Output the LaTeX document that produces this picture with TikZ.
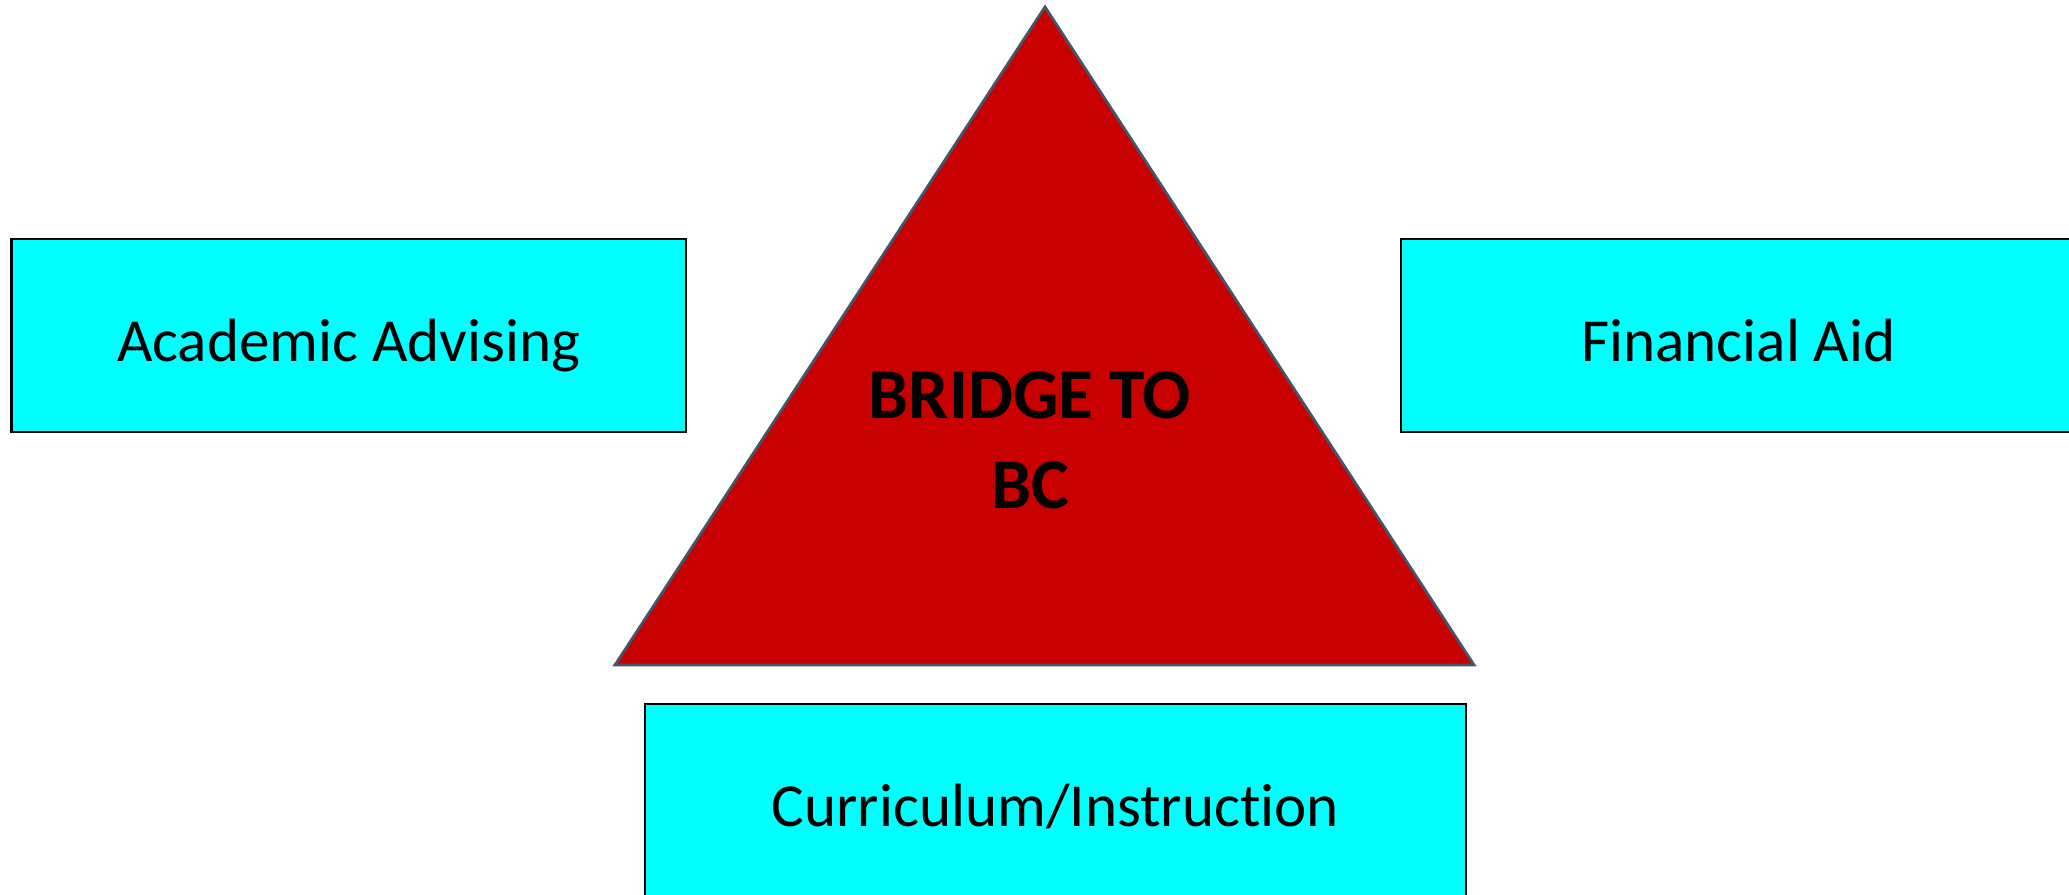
\documentclass[tikz,border=0pt]{standalone}
\usepackage{fontspec}
\setmainfont[Ligatures=NoCommon]{Carlito}
\definecolor{bridgered}{RGB}{200,0,0}
\definecolor{edgeslate}{RGB}{68,84,106}
\definecolor{areacyan}{RGB}{0,255,255}
\tikzset{area/.style={draw=black, line width=0.6pt, fill=areacyan, inner sep=0pt,
  minimum width=6.745cm, minimum height=1.93cm, text height=0.62cm, text depth=0.1cm,
  font=\fontsize{17.4}{21}\selectfont}}

\begin{document}
\begin{tikzpicture}
\useasboundingbox (0,0) rectangle (20.69,-8.95);

\filldraw[fill=bridgered, draw=edgeslate, line width=0.8pt] (10.45,-0.07)--(14.74,-6.65)--(6.15,-6.65)--cycle;
\node[font=\bfseries\fontsize{20.3}{25.6}\selectfont, align=center] (bridge) at (10.30,-4.40) {BRIDGE TO\\BC};

\node[area] (advising) at (3.488,-3.355) {Academic Advising};
\node[area] (aid) at (17.385,-3.355) {Financial Aid};
\node[area, minimum width=8.21cm] (curriculum) at (10.555,-8.005) {Curriculum/Instruction};%bottom box runs off the page
\end{tikzpicture}
\end{document}
